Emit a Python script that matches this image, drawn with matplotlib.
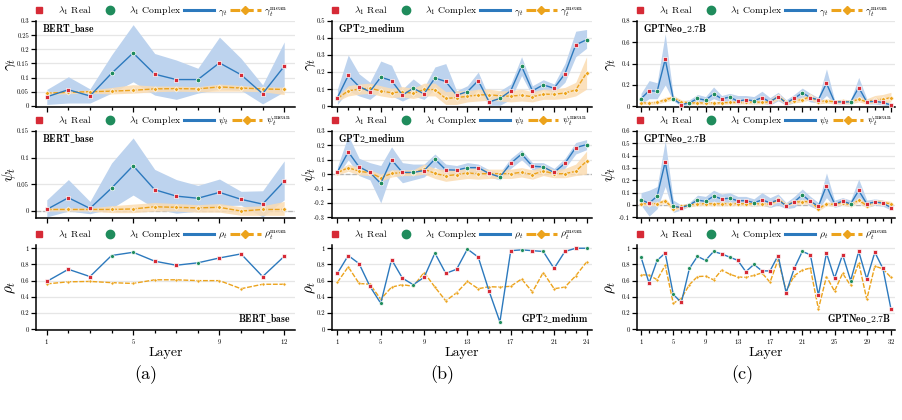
import numpy as np

import matplotlib as mpl
mpl.use('agg')

import matplotlib.pyplot as plt
from matplotlib.lines import Line2D
from matplotlib.ticker import FuncFormatter, MultipleLocator

plt.rcParams['font.family'] = ['cmr10', 'DejaVu Serif']
plt.rcParams['mathtext.fontset'] = 'cm'
plt.rcParams['axes.unicode_minus'] = False
plt.rcParams['axes.formatter.use_mathtext'] = True

# ---------------- BERT_base (12 layers) ----------------
bert_kind = 'RRRCCRRCRRRR'
bert_gamma = [0.032, 0.057, 0.035, 0.115, 0.187, 0.112, 0.093, 0.093, 0.152, 0.110, 0.043, 0.140]
bert_gamma_lo = [0.005, 0.010, 0.010, 0.045, 0.085, 0.038, 0.023, 0.045, 0.060, 0.055, 0.007, 0.050]
bert_gamma_hi = [0.058, 0.103, 0.060, 0.180, 0.287, 0.185, 0.162, 0.133, 0.243, 0.168, 0.074, 0.226]
bert_gamma_mean = [0.045, 0.048, 0.050, 0.052, 0.055, 0.060, 0.061, 0.060, 0.067, 0.063, 0.060, 0.058]
bert_gamma_mean_lo = [0.040, 0.043, 0.045, 0.042, 0.045, 0.050, 0.052, 0.050, 0.052, 0.052, 0.050, 0.040]
bert_gamma_mean_hi = [0.050, 0.054, 0.056, 0.065, 0.075, 0.070, 0.070, 0.068, 0.077, 0.072, 0.068, 0.066]

bert_psi = [0.003, 0.025, 0.005, 0.043, 0.085, 0.040, 0.028, 0.024, 0.035, 0.022, 0.013, 0.056]
bert_psi_lo = [-0.011, 0.000, -0.005, 0.005, 0.030, 0.005, -0.004, 0.000, 0.010, 0.011, -0.011, 0.021]
bert_psi_hi = [0.021, 0.059, 0.018, 0.090, 0.137, 0.078, 0.059, 0.048, 0.060, 0.037, 0.038, 0.094]
bert_psi_mean = [0.003, 0.003, 0.003, 0.003, 0.004, 0.008, 0.007, 0.006, 0.007, 0.000, 0.003, 0.003]
bert_psi_mean_lo = [0.000, 0.000, 0.000, -0.003, -0.003, 0.000, 0.000, -0.002, -0.002, -0.008, -0.008, -0.008]
bert_psi_mean_hi = [0.006, 0.006, 0.006, 0.010, 0.013, 0.016, 0.014, 0.012, 0.014, 0.008, 0.010, 0.018]

bert_rho = [0.59, 0.74, 0.65, 0.91, 0.95, 0.84, 0.79, 0.82, 0.88, 0.93, 0.65, 0.90]
bert_rho_mean = [0.56, 0.585, 0.59, 0.575, 0.565, 0.61, 0.61, 0.60, 0.60, 0.50, 0.555, 0.555]

# ---------------- GPT2_medium (24 layers) ----------------
gpt2_kind = 'RRRRCRRCRCRRCRRCRCRCRRRC'
gpt2_gamma = [0.050, 0.180, 0.115, 0.085, 0.170, 0.150, 0.065, 0.105, 0.072, 0.165, 0.145, 0.065,
              0.085, 0.150, 0.025, 0.045, 0.090, 0.235, 0.090, 0.125, 0.105, 0.190, 0.360, 0.390]
gpt2_gamma_lo = [0.010, 0.090, 0.060, 0.040, 0.090, 0.060, 0.030, 0.060, 0.040, 0.100, 0.060, 0.040,
                 0.040, 0.100, 0.005, 0.005, 0.040, 0.180, 0.060, 0.100, 0.080, 0.140, 0.290, 0.340]
gpt2_gamma_hi = [0.100, 0.300, 0.190, 0.140, 0.265, 0.240, 0.100, 0.160, 0.110, 0.230, 0.250, 0.090,
                 0.120, 0.200, 0.050, 0.090, 0.130, 0.290, 0.120, 0.155, 0.130, 0.250, 0.440, 0.450]
gpt2_gamma_mean = [0.045, 0.090, 0.100, 0.105, 0.090, 0.078, 0.085, 0.075, 0.098, 0.097, 0.045, 0.050,
                   0.058, 0.065, 0.068, 0.060, 0.058, 0.065, 0.055, 0.070, 0.070, 0.077, 0.095, 0.195]
gpt2_gamma_mean_lo = [0.030, 0.060, 0.070, 0.075, 0.060, 0.050, 0.055, 0.045, 0.060, 0.060, 0.010, 0.010,
                      0.025, 0.030, 0.035, 0.030, 0.025, 0.030, 0.025, 0.040, 0.040, 0.045, 0.060, 0.100]
gpt2_gamma_mean_hi = [0.060, 0.120, 0.130, 0.135, 0.120, 0.105, 0.115, 0.105, 0.135, 0.135, 0.085, 0.090,
                      0.090, 0.100, 0.100, 0.090, 0.090, 0.100, 0.085, 0.100, 0.100, 0.110, 0.140, 0.290]

gpt2_psi = [0.015, 0.155, 0.050, 0.012, -0.065, 0.100, 0.012, 0.012, 0.025, 0.105, 0.030, 0.028,
            0.045, 0.045, 0.005, -0.020, 0.075, 0.140, 0.055, 0.050, 0.012, 0.075, 0.185, 0.205]
gpt2_psi_lo = [-0.010, 0.100, -0.010, -0.040, -0.200, 0.020, -0.060, -0.040, -0.020, 0.050, 0.000, -0.010,
               0.010, 0.010, -0.020, -0.040, 0.040, 0.100, 0.030, 0.020, -0.010, 0.040, 0.140, 0.170]
gpt2_psi_hi = [0.050, 0.270, 0.110, 0.080, 0.060, 0.190, 0.080, 0.070, 0.070, 0.140, 0.070, 0.060,
               0.080, 0.070, 0.030, 0.010, 0.110, 0.170, 0.080, 0.080, 0.040, 0.110, 0.220, 0.240]
gpt2_psi_mean = [0.010, 0.045, 0.020, 0.010, -0.025, 0.005, 0.010, 0.010, 0.035, 0.005, -0.012, -0.003,
                 0.008, 0.003, 0.003, 0.003, 0.003, 0.013, -0.003, 0.022, 0.003, 0.003, 0.020, 0.090]
gpt2_psi_mean_lo = [-0.005, 0.020, -0.005, -0.010, -0.050, -0.020, -0.010, -0.010, 0.000, -0.030, -0.050, -0.040,
                    -0.030, -0.035, -0.030, -0.030, -0.030, -0.020, -0.035, -0.010, -0.025, -0.025, -0.010, 0.000]
gpt2_psi_mean_hi = [0.025, 0.070, 0.045, 0.030, 0.000, 0.030, 0.030, 0.030, 0.070, 0.040, 0.030, 0.035,
                    0.045, 0.040, 0.035, 0.035, 0.035, 0.045, 0.030, 0.055, 0.030, 0.040, 0.070, 0.160]

gpt2_rho = [0.69, 0.91, 0.81, 0.53, 0.32, 0.86, 0.63, 0.55, 0.64, 0.94, 0.69, 0.74,
            0.99, 0.89, 0.47, 0.09, 0.97, 0.98, 0.97, 0.96, 0.75, 0.96, 1.00, 1.00]
gpt2_rho_mean = [0.58, 0.77, 0.565, 0.555, 0.37, 0.52, 0.55, 0.53, 0.70, 0.52, 0.35, 0.45,
                 0.59, 0.50, 0.525, 0.52, 0.53, 0.62, 0.46, 0.70, 0.50, 0.52, 0.66, 0.83]

# ---------------- GPTNeo_2.7B (32 layers) ----------------
gptneo_kind = 'CRCRCRCCCCRCRRCRRRRRCRRRRRCRRRRR'
gptneo_gamma = [0.070, 0.145, 0.140, 0.440, 0.070, 0.015, 0.030, 0.072, 0.056, 0.115, 0.070, 0.085,
                0.047, 0.060, 0.050, 0.080, 0.040, 0.090, 0.030, 0.072, 0.125, 0.080, 0.060, 0.215,
                0.040, 0.040, 0.040, 0.175, 0.040, 0.045, 0.035, 0.010]
gptneo_gamma_lo = [0.020, 0.070, 0.070, 0.200, 0.050, 0.000, 0.010, 0.040, 0.030, 0.070, 0.040, 0.050,
                   0.020, 0.030, 0.020, 0.030, 0.010, 0.050, 0.010, 0.030, 0.080, 0.040, 0.030, 0.100,
                   0.020, 0.020, 0.020, 0.080, 0.020, 0.020, 0.010, 0.000]
gptneo_gamma_hi = [0.120, 0.240, 0.220, 0.680, 0.100, 0.050, 0.060, 0.110, 0.090, 0.180, 0.100, 0.120,
                   0.100, 0.100, 0.090, 0.140, 0.080, 0.130, 0.060, 0.110, 0.170, 0.120, 0.080, 0.350,
                   0.060, 0.060, 0.060, 0.270, 0.070, 0.070, 0.060, 0.030]
gptneo_gamma_mean = [0.030, 0.030, 0.035, 0.060, 0.080, 0.040, 0.030, 0.030, 0.030, 0.030, 0.030, 0.035,
                     0.035, 0.035, 0.040, 0.035, 0.040, 0.090, 0.035, 0.050, 0.060, 0.090, 0.040, 0.050,
                     0.040, 0.045, 0.040, 0.065, 0.040, 0.060, 0.065, 0.080]
gptneo_gamma_mean_lo = [0.015, 0.015, 0.020, 0.040, 0.060, 0.025, 0.015, 0.015, 0.015, 0.015, 0.015, 0.020,
                        0.020, 0.020, 0.020, 0.020, 0.020, 0.060, 0.020, 0.030, 0.040, 0.060, 0.020, 0.030,
                        0.020, 0.025, 0.020, 0.040, 0.020, 0.030, 0.030, 0.040]
gptneo_gamma_mean_hi = [0.045, 0.045, 0.050, 0.085, 0.100, 0.060, 0.045, 0.045, 0.045, 0.045, 0.045, 0.050,
                        0.050, 0.050, 0.060, 0.050, 0.060, 0.120, 0.050, 0.070, 0.085, 0.120, 0.060, 0.070,
                        0.060, 0.065, 0.060, 0.090, 0.070, 0.100, 0.110, 0.130]

gptneo_psi = [0.042, 0.015, 0.072, 0.350, -0.010, -0.020, 0.000, 0.040, 0.030, 0.072, 0.050, 0.055,
              0.035, 0.035, 0.020, 0.040, 0.020, 0.040, -0.005, 0.025, 0.082, 0.030, -0.010, 0.157,
              0.010, 0.030, 0.010, 0.118, 0.010, 0.025, 0.015, -0.020]
gptneo_psi_lo = [0.000, -0.090, -0.030, 0.150, -0.060, -0.040, -0.010, 0.000, 0.000, 0.030, 0.010, 0.020,
                 0.000, 0.000, -0.010, 0.000, -0.020, 0.000, -0.030, -0.020, 0.040, -0.010, -0.040, 0.060,
                 -0.020, 0.000, -0.010, 0.040, -0.020, 0.000, -0.010, -0.040]
gptneo_psi_hi = [0.100, 0.120, 0.150, 0.520, 0.040, 0.000, 0.020, 0.080, 0.070, 0.120, 0.090, 0.100,
                 0.070, 0.070, 0.050, 0.100, 0.060, 0.090, 0.020, 0.070, 0.130, 0.070, 0.020, 0.260,
                 0.040, 0.060, 0.040, 0.210, 0.040, 0.050, 0.040, 0.000]
gptneo_psi_mean = [0.010, 0.010, 0.010, 0.035, -0.030, -0.010, 0.000, 0.010, 0.010, 0.010, 0.010, 0.010,
                   0.010, 0.010, 0.010, 0.010, 0.005, 0.045, 0.000, 0.025, 0.025, 0.030, -0.030, 0.010,
                   0.005, 0.020, 0.000, 0.040, -0.005, 0.025, 0.020, 0.010]
gptneo_psi_mean_lo = [-0.005, -0.005, -0.005, 0.015, -0.050, -0.025, -0.015, -0.005, -0.005, -0.005, -0.005, -0.005,
                      -0.005, -0.005, -0.005, -0.005, -0.010, 0.025, -0.015, 0.005, 0.005, 0.010, -0.050, -0.005,
                      -0.010, 0.000, -0.015, 0.020, -0.025, 0.005, 0.000, -0.010]
gptneo_psi_mean_hi = [0.025, 0.025, 0.025, 0.055, -0.010, 0.005, 0.015, 0.025, 0.025, 0.025, 0.025, 0.025,
                      0.025, 0.025, 0.025, 0.025, 0.020, 0.065, 0.015, 0.045, 0.045, 0.050, -0.010, 0.025,
                      0.020, 0.040, 0.015, 0.060, 0.015, 0.045, 0.040, 0.030]

gptneo_rho = [0.89, 0.57, 0.85, 0.94, 0.43, 0.33, 0.75, 0.90, 0.85, 0.96, 0.93, 0.89,
              0.85, 0.71, 0.80, 0.72, 0.72, 0.91, 0.45, 0.75, 0.96, 0.92, 0.42, 0.94,
              0.63, 0.92, 0.60, 0.96, 0.62, 0.95, 0.75, 0.25]
gptneo_rho_mean = [0.67, 0.67, 0.61, 0.79, 0.32, 0.38, 0.55, 0.65, 0.655, 0.61, 0.73, 0.68,
                   0.645, 0.64, 0.665, 0.695, 0.58, 0.86, 0.47, 0.66, 0.73, 0.755, 0.25, 0.65,
                   0.47, 0.69, 0.54, 0.82, 0.37, 0.78, 0.745, 0.64]

models = [
    dict(name='BERT\\_base', kind=bert_kind, xt=[1, 5, 9, 12], cap='(a)',
         gamma=(bert_gamma, bert_gamma_lo, bert_gamma_hi, bert_gamma_mean, bert_gamma_mean_lo, bert_gamma_mean_hi),
         psi=(bert_psi, bert_psi_lo, bert_psi_hi, bert_psi_mean, bert_psi_mean_lo, bert_psi_mean_hi),
         rho=(bert_rho, bert_rho_mean),
         glim=(-0.004, 0.3, 0.05), plim=(-0.013, 0.15, 0.05)),
    dict(name='GPT2\\_medium', kind=gpt2_kind, xt=[1, 5, 9, 13, 17, 21, 24], cap='(b)',
         gamma=(gpt2_gamma, gpt2_gamma_lo, gpt2_gamma_hi, gpt2_gamma_mean, gpt2_gamma_mean_lo, gpt2_gamma_mean_hi),
         psi=(gpt2_psi, gpt2_psi_lo, gpt2_psi_hi, gpt2_psi_mean, gpt2_psi_mean_lo, gpt2_psi_mean_hi),
         rho=(gpt2_rho, gpt2_rho_mean),
         glim=(-0.005, 0.5, 0.1), plim=(-0.305, 0.3, 0.1)),
    dict(name='GPTNeo\\_2.7B', kind=gptneo_kind, xt=[1, 5, 9, 13, 17, 21, 25, 29, 32], cap='(c)',
         gamma=(gptneo_gamma, gptneo_gamma_lo, gptneo_gamma_hi, gptneo_gamma_mean, gptneo_gamma_mean_lo, gptneo_gamma_mean_hi),
         psi=(gptneo_psi, gptneo_psi_lo, gptneo_psi_hi, gptneo_psi_mean, gptneo_psi_mean_lo, gptneo_psi_mean_hi),
         rho=(gptneo_rho, gptneo_rho_mean),
         glim=(-0.008, 0.8, 0.2), plim=(-0.105, 0.6, 0.1)),
]

RED = '#d62a36'
GREEN = '#1f8c5c'
BLUE = '#2c79bd'
ORANGE = '#eca31c'
BLUE_BAND = '#bdd3ee'
ORANGE_BAND = '#fbdcb2'

W, H = 902, 420
col_left = [36, 332, 637]
col_width = [259, 260, 258]
row_top = [21, 131, 245]
row_bot = [107, 218, 330]
cap_x = [146, 442, 742]
ylab_x = [-0.068, -0.053, -0.072]


def fmt(v, pos):
    return '%g' % (round(v, 6) + 0.0)


def style_axes(ax, n, xt, ylim, show_xlabels):
    lo, hi, step = ylim
    ax.set_xlim(0.5, n + 0.5)
    ax.set_ylim(lo, hi)
    ax.set_xticks(xt)
    ax.xaxis.set_minor_locator(MultipleLocator(1))
    ax.yaxis.set_major_locator(MultipleLocator(step))
    ax.yaxis.set_major_formatter(FuncFormatter(fmt))
    ax.yaxis.grid(True, color='#e6e6e6', lw=0.9)
    ax.set_axisbelow(True)
    for s in ['top', 'right']:
        ax.spines[s].set_visible(False)
    for s in ['left', 'bottom']:
        ax.spines[s].set_linewidth(1.1)
    ax.tick_params(axis='both', which='major', direction='out', length=3.5, width=0.9, labelsize=4.8, pad=1.5)
    ax.tick_params(axis='x', which='minor', direction='out', length=2.5, width=0.9)
    if not show_xlabels:
        ax.tick_params(axis='x', which='major', labelbottom=False)


def add_legend(ax, sym):
    handles = [
        Line2D([], [], ls='none', marker='s', ms=5, color=RED),
        Line2D([], [], ls='none', marker='o', ms=6, color=GREEN),
        Line2D([], [], color=BLUE, lw=2.2),
        Line2D([], [], color=ORANGE, lw=2.2, ls=(0, (3.2, 1.2)), marker='D', ms=4.2),
    ]
    labels = [r'$\lambda_1$ Real', r'$\lambda_1$ Complex', r'$%s_t$' % sym, r'$%s_t^{\rm mean}$' % sym]
    ax.legend(handles, labels, loc='center left', bbox_to_anchor=(-0.045, 1.115), ncol=4,
              frameon=False, fontsize=7, handlelength=3.1, handletextpad=0.4,
              columnspacing=0.3, borderpad=0, borderaxespad=0)


def draw_points(ax, layers, kind, vals, size):
    kind = np.array(list(kind))
    vals = np.asarray(vals)
    real = kind == 'R'
    ax.scatter(layers[real], vals[real], marker='s', s=size, c=RED,
               edgecolors='white', linewidths=0.5, zorder=6)
    ax.scatter(layers[~real], vals[~real], marker='o', s=size * 1.2, c=GREEN,
               edgecolors='white', linewidths=0.5, zorder=6)


figure = plt.figure(figsize=(W / 100, H / 100), dpi=100)

for c, m in enumerate(models):
    n = len(m['kind'])
    layers = np.arange(1, n + 1)
    for r, (key, sym) in enumerate([('gamma', r'\gamma'), ('psi', r'\psi'), ('rho', r'\rho')]):
        ax = figure.add_axes([col_left[c] / W, 1 - row_bot[r] / H,
                              col_width[c] / W, (row_bot[r] - row_top[r]) / H])
        if key == 'rho':
            val, mean = m['rho']
            style_axes(ax, n, m['xt'], (-0.01, 1.04, 0.2), True)
            ax.plot(layers, mean, color=ORANGE, lw=1.0, ls=(0, (3.5, 1.2)),
                    marker='D', ms=1.8, mec='white', mew=0.3, zorder=3)
            ax.plot(layers, val, color=BLUE, lw=1.0, zorder=4)
            draw_points(ax, layers, m['kind'], val, 6.5)
            ax.text(0.985, 0.06, r'$\mathbf{%s}$' % m['name'], transform=ax.transAxes,
                    ha='right', va='bottom', fontsize=7)
            ax.set_xlabel('Layer', fontsize=10, labelpad=1)
        else:
            val, lo, hi, mean, mlo, mhi = m[key]
            style_axes(ax, n, m['xt'], m['glim'] if key == 'gamma' else m['plim'], False)
            if key == 'psi':
                ax.axhline(0, color='#b5b5b5', ls='--', lw=0.9, zorder=1)
            ax.fill_between(layers, lo, hi, color=BLUE_BAND, lw=0, zorder=1)
            ax.fill_between(layers, mlo, mhi, color=ORANGE_BAND, alpha=0.85, lw=0, zorder=2)
            ax.plot(layers, mean, color=ORANGE, lw=1.0, ls=(0, (3.5, 1.2)),
                    marker='D', ms=2.6, mec='white', mew=0.5, zorder=3)
            ax.plot(layers, val, color=BLUE, lw=1.0, zorder=4)
            draw_points(ax, layers, m['kind'], val, 9)
            ax.text(0.022, 0.91, r'$\mathbf{%s}$' % m['name'], transform=ax.transAxes,
                    ha='left', va='center', fontsize=7)
        ax.set_ylabel(r'$%s_t$' % sym, fontsize=11)
        ax.yaxis.set_label_coords(ylab_x[c], 0.5)
        add_legend(ax, sym)
    figure.text(cap_x[c] / W, 1 - 375 / H, m['cap'], ha='center', va='center', fontsize=13)

plt.savefig('out.png', dpi=100)
